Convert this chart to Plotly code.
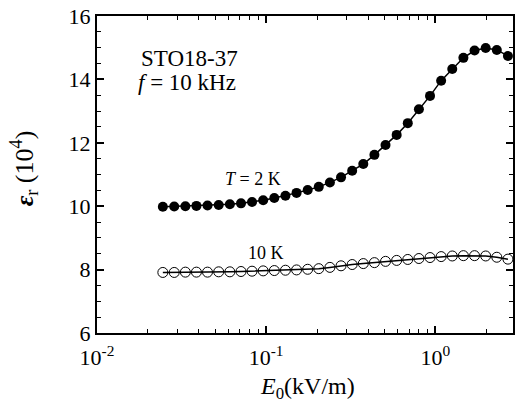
import plotly.graph_objects as go

# Applied field amplitude E0 (kV/m), log-spaced sweep
e_field = [0.0245, 0.0286, 0.0333, 0.0387, 0.0450, 0.0524, 0.0610, 0.0710,
           0.0825, 0.0960, 0.1117, 0.1300, 0.1512, 0.1759, 0.2046, 0.2381,
           0.2770, 0.3223, 0.3750, 0.4363, 0.5076, 0.5906, 0.6871, 0.7995,
           0.9302, 1.082, 1.259, 1.465, 1.705, 1.984, 2.308, 2.686]

# Relative permittivity (units of 1e4) at T = 2 K
eps_2k = [9.98, 9.99, 10.00, 10.01, 10.02, 10.04, 10.06, 10.09,
          10.13, 10.19, 10.26, 10.33, 10.42, 10.51, 10.61, 10.75,
          10.91, 11.12, 11.33, 11.62, 11.93, 12.25, 12.62, 13.06,
          13.48, 13.96, 14.33, 14.68, 14.91, 14.99, 14.93, 14.74]

# Relative permittivity (units of 1e4) at T = 10 K
eps_10k = [7.91, 7.91, 7.92, 7.92, 7.92, 7.93, 7.93, 7.94,
           7.95, 7.96, 7.97, 7.98, 7.99, 8.01, 8.03, 8.07,
           8.12, 8.16, 8.19, 8.22, 8.26, 8.29, 8.32, 8.35,
           8.38, 8.41, 8.43, 8.44, 8.44, 8.43, 8.39, 8.33]

x_tick_vals = [0.01, 0.1, 1]
x_tick_text = ["10<sup>-2</sup>", "10<sup>-1</sup>", "10<sup>0</sup>"]
y_tick_vals = [6, 8, 10, 12, 14, 16]

FONT = "'Liberation Serif', 'Times New Roman', serif"

fig = go.Figure()
fig.add_trace(go.Scatter(
    x=e_field, y=eps_2k, mode="lines+markers",
    line=dict(color="black", width=1.5),
    marker=dict(symbol="circle", size=10, color="black"),
    showlegend=False,
))
fig.add_trace(go.Scatter(
    x=e_field, y=eps_10k, mode="lines+markers",
    line=dict(color="black", width=1.5),
    marker=dict(symbol="circle-open", size=10, color="black",
                line=dict(width=1)),
    showlegend=False,
))

minor_x = [m * d for d in (0.01, 0.1, 1) for m in range(2, 10)]

fig.update_layout(
    width=515, height=407,
    margin=dict(l=97, r=0, t=16, b=74),
    paper_bgcolor="white", plot_bgcolor="white",
    font=dict(family=FONT, size=22, color="black"),
    xaxis=dict(
        type="log", range=[-2, 0.459],
        tickvals=x_tick_vals, ticktext=x_tick_text,
        ticks="inside", ticklen=7, tickwidth=1.5, tickcolor="black",
        showline=True, linecolor="black", linewidth=2, mirror="ticks",
        showgrid=False, zeroline=False,
        tickfont=dict(family=FONT, size=22),
        ticklabelstandoff=4,
        minor=dict(tickvals=minor_x, ticks="inside", ticklen=4,
                   tickwidth=1, tickcolor="black", showgrid=False),
    ),
    yaxis=dict(
        range=[6, 16], tickvals=y_tick_vals,
        ticks="inside", ticklen=7, tickwidth=1.5, tickcolor="black",
        showline=True, linecolor="black", linewidth=2, mirror="ticks",
        showgrid=False, zeroline=False,
        tickfont=dict(family=FONT, size=22),
        minor=dict(dtick=0.5, ticks="inside", ticklen=4,
                   tickwidth=1, tickcolor="black", showgrid=False),
    ),
)

annotations = [
    dict(text="<i>E</i><sub>0</sub>(kV/m)", x=0.505, y=-0.1735,
         xanchor="center", yanchor="middle", font=dict(size=24)),
    dict(text="<b><i>ε</i></b><sub>r</sub> (10<sup>4</sup>)", x=-0.175, y=0.52,
         xanchor="center", yanchor="middle", textangle=-90, font=dict(size=26)),
    dict(text="STO18-37", x=0.101, y=0.8675,
         xanchor="left", yanchor="middle", font=dict(size=23)),
    dict(text="<i>f</i> = 10 kHz", x=0.0945, y=0.789,
         xanchor="left", yanchor="middle", font=dict(size=23)),
    dict(text="<i>T</i> = 2 K", x=0.3756, y=0.486,
         xanchor="center", yanchor="middle", font=dict(size=18)),
    dict(text="10 K", x=0.4067, y=0.252,
         xanchor="center", yanchor="middle", font=dict(size=18)),
]
for a in annotations:
    a.update(xref="paper", yref="paper", showarrow=False)
    fig.add_annotation(**a)

fig.write_html("out.html")
